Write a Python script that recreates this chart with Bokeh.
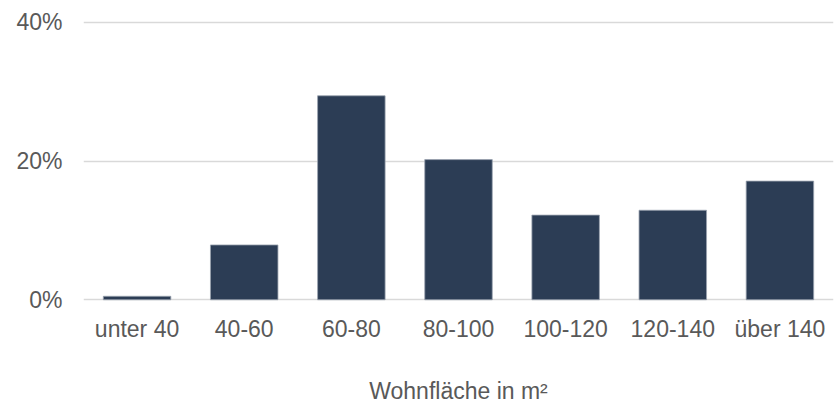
from bokeh.plotting import figure
from bokeh.models import FactorRange, Range1d, NumeralTickFormatter, ColumnDataSource, FixedTicker
from bokeh.embed import file_html
from bokeh.resources import INLINE

# Anteil der Wohnungen nach Wohnfläche
categories = ["unter 40", "40-60", "60-80", "80-100", "100-120", "120-140", "über 140"]
shares = [0.005, 0.079, 0.294, 0.202, 0.122, 0.129, 0.171]
y_ticks = [0.0, 0.2, 0.4]
x_title = "Wohnfläche in m²"

FONT = "Liberation Sans"
TEXT = "#595959"

source = ColumnDataSource(data=dict(cat=categories, share=shares))

# a hair of padding so the 0% and 40% grid lines are not clipped by the frame
p = figure(
    width=834, height=406,
    x_range=FactorRange(*categories, range_padding=0),
    y_range=Range1d(-0.0025, 0.4025),
    output_backend="svg", toolbar_location=None,
    min_border_left=83, min_border_right=1, min_border_top=20, min_border_bottom=105,
)
p.outline_line_color = None
p.background_fill_color = "white"
p.border_fill_color = "white"

p.vbar(x="cat", top="share", width=0.63, source=source,
       fill_color="#2C3D55", line_color="#9AA3B0", line_width=0.8)

# y axis
p.yaxis.ticker = FixedTicker(ticks=y_ticks)
p.yaxis.formatter = NumeralTickFormatter(format="0%")
p.yaxis.axis_line_color = None
p.yaxis.major_tick_line_color = None
p.yaxis.minor_tick_line_color = None
p.yaxis.major_tick_out = 0
p.yaxis.major_label_standoff = 21
p.yaxis.major_label_text_font = FONT
p.yaxis.major_label_text_font_size = "23px"
p.yaxis.major_label_text_color = TEXT

# x axis
p.xaxis.axis_line_color = None
p.xaxis.major_tick_line_color = None
p.xaxis.major_tick_out = 0
p.xaxis.major_label_standoff = 14
p.xaxis.major_label_text_font = FONT
p.xaxis.major_label_text_font_size = "23px"
p.xaxis.major_label_text_color = TEXT
p.xaxis.axis_label = x_title
p.xaxis.axis_label_text_font = FONT
p.xaxis.axis_label_text_font_size = "23px"
p.xaxis.axis_label_text_font_style = "normal"
p.xaxis.axis_label_text_color = TEXT
p.xaxis.axis_label_standoff = 33

# grid
p.xgrid.grid_line_color = None
p.ygrid.ticker = FixedTicker(ticks=y_ticks)
p.ygrid.grid_line_color = "#D9D9D9"
p.ygrid.grid_line_width = 1.3
p.ygrid.level = "underlay"

open("out.html", "w").write(file_html(p, INLINE))
